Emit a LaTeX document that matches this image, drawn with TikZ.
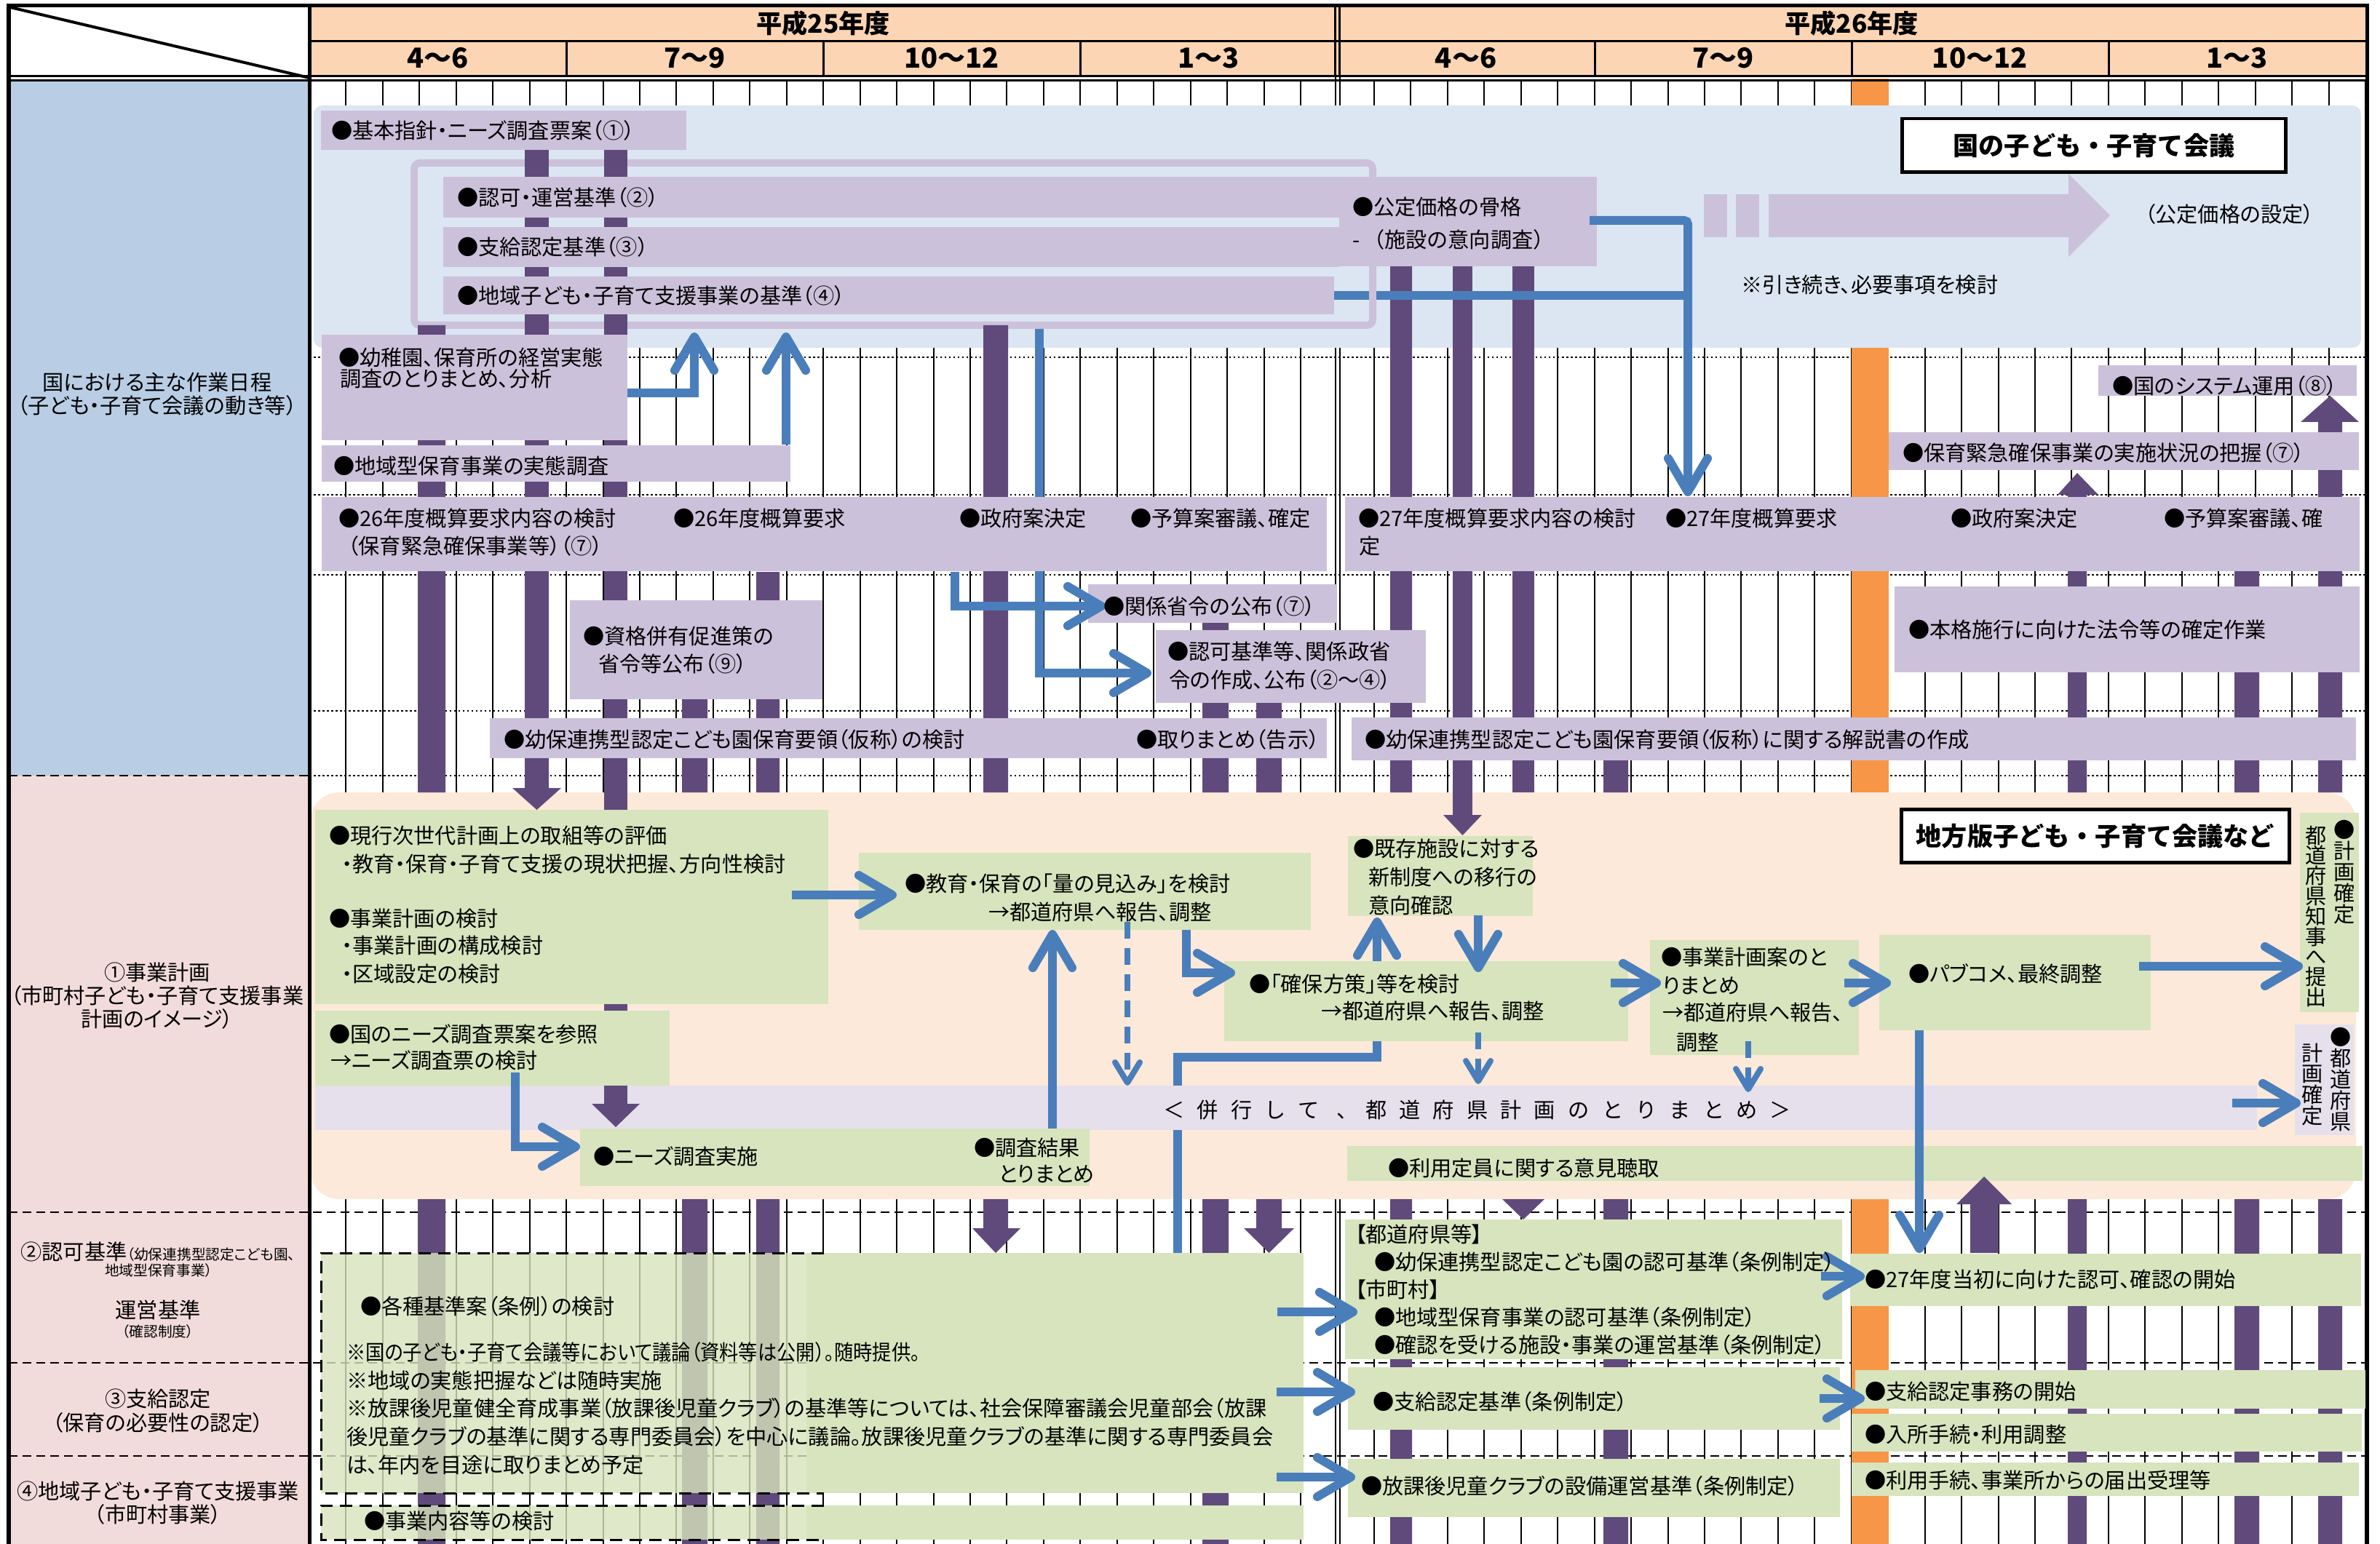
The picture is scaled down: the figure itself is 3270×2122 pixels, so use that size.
\documentclass[tikz,border=0pt]{standalone}
\usepackage{graphicx}
\usepackage{fontspec}
\setmainfont{Noto Sans CJK JP}[RawFeature=+palt]
\newfontfamily\jpfull{Noto Sans CJK JP}
\usetikzlibrary{arrows.meta}
\definecolor{hdr}{HTML}{FCD5B4}
\definecolor{colblue}{HTML}{B9CDE5}
\definecolor{colpink}{HTML}{F2DCDB}
\definecolor{areablue}{HTML}{DCE6F2}
\definecolor{areapink}{HTML}{FDE9D9}
\definecolor{lav}{HTML}{CCC1DA}
\definecolor{llav}{HTML}{E5E0EC}
\definecolor{grn}{HTML}{D7E4BD}
\definecolor{pur}{HTML}{604A7B}
\definecolor{blu}{HTML}{4A7EBB}
\definecolor{org}{HTML}{F79646}
\newcommand\BX[6]{\node[fill=#1,draw=none,inner sep=0pt,outer sep=0pt,anchor=north west,minimum width={(#5-#3)*0.01cm},minimum height={(#6-#4)*0.01cm}] (#2) at (#3,#4) {};}
\newcommand\T[4][]{\node[txt,#1] (#2) at (#3) {#4};}
\begin{document}
\begin{tikzpicture}[x=0.01cm,y=-0.01cm,
  txt/.style={anchor=west,inner sep=0pt,outer sep=0pt,font=\fontsize{8.3}{10}\selectfont,text height=7.3pt,text depth=1pt},
  stxt/.style={inner sep=0pt,outer sep=0pt,font=\fontsize{5.6}{6.5}\selectfont,text height=4.9pt,text depth=0.7pt,anchor=center},
  gridl/.style={line width=0.02cm,black},
  dotl/.style={line width=0.025cm,densely dotted},
  dashl/.style={line width=0.025cm,dash pattern=on 0.12cm off 0.07cm},
  dashbox/.style={line width=0.03cm,dash pattern=on 0.17cm off 0.1cm},
  bluarr/.style={draw=blu,line width=0.12cm,-{Straight Barb[length=4.6mm,width=5.4mm,round]}},
  bluline/.style={draw=blu,line width=0.12cm},
  dbluarr/.style={draw=blu,line width=0.08cm,dash pattern=on 0.23cm off 0.13cm,-{Straight Barb[length=2.8mm,width=3.4mm,round]}},
  ttl/.style={draw=black,line width=0.045cm,fill=white,inner sep=0pt,anchor=north west,font={\jpfull\bfseries\fontsize{10}{12}\selectfont}},
  hd/.style={inner sep=0pt,font={\jpfull\bfseries\fontsize{10}{12}\selectfont}},
  hq/.style={inner sep=0pt,font={\jpfull\bfseries\fontsize{10.8}{12}\selectfont}}
]
\path[use as bounding box] (0,0) rectangle (3270,2122);
\fill[white] (0,0) rectangle (3270,2122);
% header and left column fills
\fill[hdr] (425,10) rectangle (3252,104);
\fill[colblue] (12,110) rectangle (425,1066);
\fill[colpink] (12,1066) rectangle (425,2122);
% grid
\foreach \i in {0,...,56}{\ifnum\i=28\else\pgfmathsetmacro\gx{425+\i*50.446}\draw[gridl] (\gx,110)--(\gx,2122);\fi}
\draw[gridl] (1834.5,104)--(1834.5,2122) (1840.5,104)--(1840.5,2122);
\foreach \yy in {491,680,790,977,1066} \draw[dotl] (425,\yy)--(3252,\yy);
\draw[dashl] (12,1066)--(425,1066);
\foreach \yy in {1666,1873,2001} \draw[dashl] (12,\yy)--(3252,\yy);
% orange bar
\fill[org] (2544,108) rectangle (2595,2122);
% areas
\fill[areablue,rounded corners=0.12cm] (431,145) rectangle (3244,478);
\fill[areapink,rounded corners=0.4cm] (426,1089) rectangle (3237,1648);
\draw[lav,line width=0.1cm,rounded corners=0.08cm] (569,224) rectangle (1886,447);
% connectors under boxes
\draw[bluline] (1892,1431)--(1892,1453)--(1618,1453)--(1618,1722);
\BX{llav}{band}{433}{1492}{3101}{1553}
\draw[bluarr] (1428,452)--(1428,925)--(1582,925);
% purple bars
\fill[pur] (574,447) rectangle (612,1089) (574,1648) rectangle (612,2122);
\fill[pur] (721,206) rectangle (754,1083);
\fill[pur] (704,1083)--(771,1083)--(737.5,1113)--cycle;
\fill[pur] (830,206) rectangle (862,1517);
\fill[pur] (813,1517)--(879,1517)--(846,1549)--cycle;
\fill[pur] (937,827) rectangle (972,1089) (937,1648) rectangle (972,2122);
\fill[pur] (1039,786) rectangle (1071,1089) (1039,1648) rectangle (1071,2122);
\fill[pur] (1351,447) rectangle (1385,1089) (1351,1648) rectangle (1385,1690);
\fill[pur] (1336,1688)--(1402,1688)--(1368,1722)--cycle;
\fill[pur] (1652,833) rectangle (1688,1089) (1652,1648) rectangle (1688,2122);
\fill[pur] (1726,930) rectangle (1761,1089) (1726,1648) rectangle (1761,1690);
\fill[pur] (1709,1688)--(1778,1688)--(1743.5,1722)--cycle;
\fill[pur] (1910,366) rectangle (1940,1089) (1910,1648) rectangle (1940,2122);
\fill[pur] (1996,366) rectangle (2023,1120);
\fill[pur] (1983,1120)--(2036,1120)--(2009.5,1148)--cycle;
\fill[pur] (2078,366) rectangle (2108,1089);
\fill[pur] (2064,1648)--(2122,1648)--(2093,1676)--cycle;
\fill[pur] (2203,1020) rectangle (2237,1089) (2203,1648) rectangle (2237,2122);
\fill[pur] (3185,580) rectangle (3218,1089) (3185,1648) rectangle (3218,2122);
\fill[pur] (3161,580)--(3241,580)--(3201.5,544)--cycle;
\fill[pur] (2841,680) rectangle (2867,1089) (2841,1648) rectangle (2867,2122);
\fill[pur] (2827,680)--(2883,680)--(2854,650)--cycle;
\fill[pur] (3070,760) rectangle (3104,1089) (3070,1648) rectangle (3104,2122);
\draw[bluline] (1833,406)--(1881,406) (1891,406)--(2325,406);
% lavender boxes
\BX{lav}{p1}{441}{152}{943}{206}
\BX{lav}{p2}{609}{243}{1840}{299}
\BX{lav}{p3}{609}{312}{1840}{367}
\BX{lav}{p4}{609}{380}{1833}{432}
\BX{lav}{p5}{1840}{243}{2194}{366}
\BX{lav}{p6}{442}{460}{862}{605}
\BX{lav}{p7}{442}{612}{1086}{662}
\BX{lav}{p8}{2883}{502}{3238}{544}
\BX{lav}{p9}{2595}{594}{3241}{646}
\BX{lav}{p10}{442}{683}{1823}{785}
\BX{lav}{p11}{1848}{683}{3242}{785}
\BX{lav}{p12}{783}{825}{1130}{961}
\BX{lav}{p13}{1495}{803}{1837}{856}
\BX{lav}{p14}{1588}{866}{1959}{966}
\BX{lav}{p15}{2603}{806}{3242}{924}
\BX{lav}{p16}{673}{987}{1823}{1042}
\BX{lav}{p17}{1857}{986}{3237}{1045}
\BX{lav}{s1}{2341}{267}{2373}{326}
\BX{lav}{s2}{2385}{267}{2417}{326}
\fill[lav] (2430,267)--(2842,267)--(2842,239)--(2899,296)--(2842,353)--(2842,326)--(2430,326)--cycle;
% green boxes
\BX{grn}{g1}{433}{1113}{1138}{1380}
\BX{grn}{g2}{433}{1389}{920}{1492}
\BX{grn}{g3}{797}{1551}{1497}{1630}
\BX{grn}{g4}{1180}{1172}{1801}{1278}
\BX{grn}{g5}{1852}{1149}{2106}{1259}
\BX{grn}{g6}{1682}{1321}{2237}{1431}
\BX{grn}{g7}{2267}{1292}{2554}{1450}
\BX{grn}{g8}{2582}{1285}{2955}{1416}
\BX{grn}{g9}{3160}{1117}{3241}{1391}
\BX{llav}{l2}{3153}{1408}{3234}{1560}
\BX{grn}{g10}{1851}{1575}{3246}{1623}
\BX{grn}{g11}{1108}{1722}{1791}{2052}
\BX{grn,fill opacity=0.8}{g11a}{441}{1722}{1108}{2052}
\draw[dashbox] (1132,1722)--(441,1722)--(441,2052)--(1132,2052);
\BX{grn}{g12}{1108}{2069}{1791}{2116}
\BX{grn,fill opacity=0.8}{g12a}{441}{2069}{1108}{2116}
\draw[dashbox] (1132,2069)--(441,2069)--(441,2116)--(1132,2116);
\BX{grn}{g13}{1848}{1676}{2531}{1868}
\BX{grn}{g14}{1852}{1879}{2528}{1965}
\BX{grn}{g15}{1852}{2005}{2528}{2085}
\BX{grn}{g16}{2542}{1723}{3244}{1795}
\BX{grn}{g17}{2549}{1883}{3250}{1936}
\BX{grn}{g18}{2544}{1943}{3245}{1995}
\BX{grn}{g19}{2544}{2010}{3241}{2056}
\fill[pur] (2707,1653) rectangle (2746,1722);
\fill[pur] (2688,1655)--(2764,1655)--(2726,1617)--cycle;
% title boxes
\node[ttl,minimum width=5.27cm,minimum height=0.73cm] (title1) at (2611,161) {国の子ども・子育て会議};
\node[ttl,minimum width=5.33cm,minimum height=0.73cm] (title2) at (2610,1110) {地方版子ども・子育て会議など};
% blue connectors
\draw[bluarr,rounded corners=0.05cm] (2184,303)--(2319,303)--(2319,682);
\draw[bluarr] (862,540)-|(954,457);
\draw[bluarr] (1080,611)--(1080,457);
\draw[bluarr] (1312,786)--(1312,833)--(1519,833);
\draw[bluarr] (1088,1230)--(1232,1230);
\draw[bluarr] (1630,1278)--(1630,1337)--(1697,1337);
\draw[bluarr] (1446,1551)--(1446,1278);
\draw[dbluarr] (1549,1267)--(1549,1492);
\draw[bluarr] (1892,1321)--(1892,1261);
\draw[bluarr] (2031,1258)--(2031,1336);
\draw[dbluarr] (2031,1419)--(2031,1490);
\draw[bluarr] (2213,1351)--(2282,1351);
\draw[bluarr] (2534,1351)--(2598,1351);
\draw[dbluarr] (2402,1431)--(2402,1501);
\draw[bluarr] (2939,1328)--(3164,1328);
\draw[bluarr] (3067,1516)--(3161,1516);
\draw[bluarr] (2637,1416)--(2637,1722);
\draw[bluarr] (708,1474)--(708,1576)--(797,1576);
\draw[bluarr] (1755,1803)--(1865,1803);
\draw[bluarr] (1754,1913)--(1862,1913);
\draw[bluarr] (1754,2030)--(1862,2030);
\draw[bluarr] (2502,1754)--(2562,1754);
\draw[bluarr] (2500,1922)--(2562,1922);
% texts top section
\T{t1}{455,179}{●基本指針・ニーズ調査票案（①）}
\T{t2}{628,271}{●認可・運営基準（②）}
\T{t3}{628,339}{●支給認定基準（③）}
\T{t4}{628,406}{●地域子ども・子育て支援事業の基準（④）}
\T{t5}{1858,284}{●公定価格の骨格}
\T[font={\jpfull\fontsize{8.3}{10}\selectfont}]{t6}{1858,329}{-\,（施設の意向調査）}
\T{t7}{2392,391}{※引き続き、必要事項を検討}
\T[anchor=center]{t8}{3063,294}{（公定価格の設定）}
\T{t9}{465,491}{●幼稚園、保育所の経営実態}
\T{t10}{467,520}{調査のとりまとめ、分析}
\T{t11}{458,640}{●地域型保育事業の実態調査}
\T{t12}{2902,530}{●国のシステム運用（⑧）}
\T{t13}{2614,622}{●保育緊急確保事業の実施状況の把握（⑦）}
\T{t14}{465,712}{●26年度概算要求内容の検討}
\T{t15}{478,750}{（保育緊急確保事業等）（⑦）}
\T{t16}{925,712}{●26年度概算要求}
\T{t17}{1318,712}{●政府案決定}
\T{t18}{1553,712}{●予算案審議、確定}
\T{t19}{1866,712}{●27年度概算要求内容の検討}
\T{t20}{1867,750}{定}
\T{t21}{2288,712}{●27年度概算要求}
\T{t22}{2680,712}{●政府案決定}
\T{t23}{2973,712}{●予算案審議、確}
\T{t24}{801,874}{●資格併有促進策の}
\T{t25}{822,912}{省令等公布（⑨）}
\T{t26}{1516,833}{●関係省令の公布（⑦）}
\T{t27}{1604,895}{●認可基準等、関係政省}
\T{t28}{1606,934}{令の作成、公布（②～④）}
\T{t29}{2622,865}{●本格施行に向けた法令等の確定作業}
\T{t30}{692,1016}{●幼保連携型認定こども園保育要領（仮称）の検討}
\T{t31}{1561,1016}{●取りまとめ（告示）}
\T{t32}{1875,1016}{●幼保連携型認定こども園保育要領（仮称）に関する解説書の作成}
% texts pink section
\T{t33}{452,1148}{●現行次世代計画上の取組等の評価}
\T{t34}{470,1187}{・教育・保育・子育て支援の現状把握、方向性検討}
\T{t35}{452,1262}{●事業計画の検討}
\T{t36}{470,1299}{・事業計画の構成検討}
\T{t37}{470,1338}{・区域設定の検討}
\T{t38}{452,1421}{●国のニーズ調査票案を参照}
\T{t39}{454,1457}{→ニーズ調査票の検討}
\T{t40}{815,1589}{●ニーズ調査実施}
\T{t41}{1338,1577}{●調査結果}
\T{t42}{1372,1613}{とりまとめ}
\T{t43}{1243,1214}{●教育・保育の「量の見込み」を検討}
\T{t44}{1358,1253}{→都道府県へ報告、調整}
\T{t45}{1859,1166}{●既存施設に対する}
\T{t46}{1880,1205}{新制度への移行の}
\T{t47}{1880,1244}{意向確認}
\T{t48}{1716,1352}{●「確保方策」等を検討}
\T{t49}{1815,1389}{→都道府県へ報告、調整}
\T{t50}{2282,1315}{●事業計画案のと}
\T{t51}{2284,1354}{りまとめ}
\T{t52}{2284,1391}{→都道府県へ報告、}
\T{t53}{2303,1432}{調整}
\T{t54}{2622,1338}{●パブコメ、最終調整}
\T{t55}{1907,1605}{●利用定員に関する意見聴取}
\foreach \c [count=\i from 0] in {●,計,画,確,定} \node[txt,anchor=center] (va\i) at (3221,{1140+29*\i}) {\c};
\foreach \c [count=\i from 0] in {都,道,府,県,知,事,へ,提,出} \node[txt,anchor=center] (vb\i) at (3182,{1148+27.8*\i}) {\c};
\foreach \c [count=\i from 0] in {●,都,道,府,県} \node[txt,anchor=center] (vc\i) at (3216,{1425+29*\i}) {\c};
\foreach \c [count=\i from 0] in {計,画,確,定} \node[txt,anchor=center] (vd\i) at (3177,{1447+28.7*\i}) {\c};
\foreach \c [count=\i from 0] in {＜,併,行,し,て,、,都,道,府,県,計,画,の,と,り,ま,と,め,＞} \node[txt,anchor=center] (bd\i) at ({1613+46.3*\i},1525) {\c};
% texts lower section
\T{t56}{495,1795}{●各種基準案（条例）の検討}
\T{t57}{476,1858}{\scalebox{0.9}[1]{※国の子ども・子育て会議等において議論（資料等は公開）。随時提供。}}
\T{t58}{476,1897}{※地域の実態把握などは随時実施}
\T{t59}{476,1935}{※放課後児童健全育成事業（放課後児童クラブ）の基準等については、社会保障審議会児童部会（放課}
\T{t60}{476,1974}{後児童クラブの基準に関する専門委員会）を中心に議論。放課後児童クラブの基準に関する専門委員会}
\T{t61}{476,2013}{は、年内を目途に取りまとめ予定}
\T{t62}{500,2090}{●事業内容等の検討}
\T{t63}{1862,1696}{【都道府県等】}
\T{t64}{1888,1734}{●幼保連携型認定こども園の認可基準（条例制定）}
\T{t65}{1862,1772}{【市町村】}
\T{t66}{1888,1810}{●地域型保育事業の認可基準（条例制定）}
\T{t67}{1888,1848}{●確認を受ける施設・事業の運営基準（条例制定）}
\T{t68}{1886,1926}{●支給認定基準（条例制定）}
\T{t69}{1870,2042}{●放課後児童クラブの設備運営基準（条例制定）}
\T{t70}{2562,1758}{●27年度当初に向けた認可、確認の開始}
\T{t71}{2562,1912}{●支給認定事務の開始}
\T{t72}{2562,1971}{●入所手続・利用調整}
\T{t73}{2562,2034}{●利用手続、事業所からの届出受理等}
% left column texts
\T[anchor=center]{lc1}{216,525}{国における主な作業日程}
\T[anchor=center]{lc2}{216,557}{（子ども・子育て会議の動き等）}
\T[anchor=center]{lc3}{216,1336}{①事業計画}
\T[anchor=center]{lc4}{216,1368}{（市町村子ども・子育て支援事業}
\T[anchor=center]{lc5}{216,1400}{計画のイメージ）}
\T[anchor=center]{lc6}{217,1720}{②認可基準{\fontsize{5.6}{6.5}\selectfont（幼保連携型認定こども園、}}
\node[stxt] (lc7) at (218,1746) {地域型保育事業）};
\T[anchor=center]{lc8}{217,1800}{運営基準}
\node[stxt] (lc9) at (217,1830) {（確認制度）};
\T[anchor=center]{lc10}{217,1922}{③支給認定}
\T[anchor=center]{lc11}{217,1955}{（保育の必要性の認定）}
\T[anchor=center]{lc12}{217,2049}{④地域子ども・子育て支援事業}
\T[anchor=center]{lc13}{217,2081}{（市町村事業）}
% header texts
\node[hd] (h25) at (1131,32) {平成25年度};
\node[hd] (h26) at (2544,32) {平成26年度};
\foreach \lab [count=\k from 0] in {4～6,7～9,10～12,1～3,4～6,7～9,10～12,1～3} \node[hq] (q\k) at ({601.6+353.1*\k},80) {\lab};
% borders
\draw[line width=0.05cm] (10,7.5)--(3254,7.5);
\draw[line width=0.06cm] (12,5)--(12,2122);
\draw[line width=0.05cm] (3252,5)--(3252,2122);
\draw[line width=0.03cm] (425,57)--(3252,57);
\draw[line width=0.03cm] (12,104.5)--(3252,104.5) (12,110.5)--(3252,110.5);
\draw[line width=0.05cm] (425,5)--(425,2122);
\draw[line width=0.03cm] (1834.5,7)--(1834.5,104) (1840.5,7)--(1840.5,104);
\foreach \qx in {778,1131,1484,2191,2544,2897} \draw[line width=0.03cm] (\qx,57)--(\qx,104);
\draw[line width=0.04cm] (14,10)--(425,107);
\end{tikzpicture}
\end{document}
